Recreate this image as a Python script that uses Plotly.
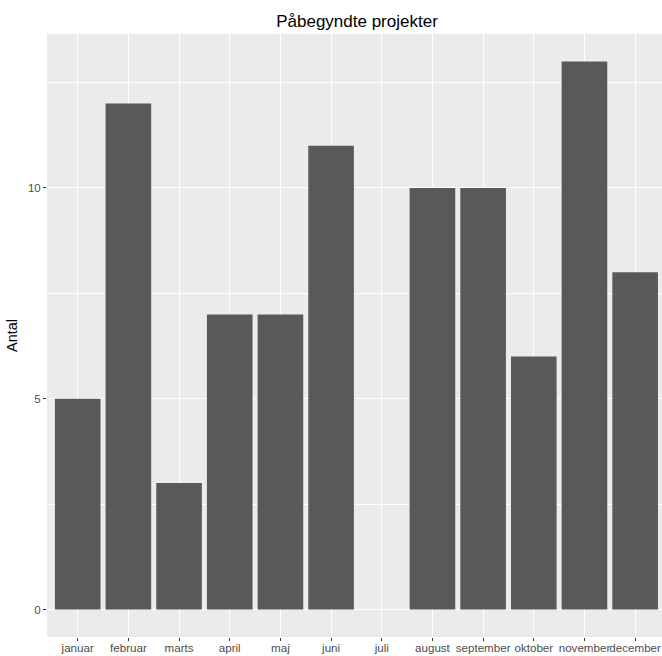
import plotly.graph_objects as go

months = ["januar", "februar", "marts", "april", "maj", "juni", "juli",
          "august", "september", "oktober", "november", "december"]
counts = [5, 12, 3, 7, 7, 11, 0, 10, 10, 6, 13, 8]
y_ticks = [0, 5, 10]

fig = go.Figure(go.Bar(x=months, y=counts, marker=dict(color="#595959", line=dict(width=0)),
                       width=0.9))

fig.update_layout(
    width=662, height=656,
    margin=dict(l=47, r=0, t=34, b=19, autoexpand=False),
    paper_bgcolor="white", plot_bgcolor="#EBEBEB",
    font=dict(family="Liberation Sans, Arial, sans-serif", color="#000000"),
    title=dict(text="Påbegyndte projekter", x=357 / 662, xanchor="center",
               y=1 - 21 / 656, yanchor="middle", font=dict(size=17, color="#000000")),
    showlegend=False, bargap=0.1,
)
fig.update_xaxes(
    type="category", range=[-0.606, 11.53], showgrid=True, gridcolor="white", gridwidth=1.4,
    ticks="outside", ticklen=3, tickwidth=1, tickcolor="#333333", automargin=False,
    tickangle=0, ticklabelstandoff=-3,
    tickfont=dict(size=11.6, color="#4D4D4D"), zeroline=False, showline=False,
)
fig.update_yaxes(
    range=[-0.65, 13.65], tickvals=y_ticks, showgrid=True, gridcolor="white", gridwidth=1.4,
    minor=dict(tick0=2.5, dtick=5, showgrid=True, gridcolor="white", gridwidth=0.7),
    ticks="outside", ticklen=3, tickwidth=1, tickcolor="#333333", automargin=False,
    tickfont=dict(size=11.5, color="#4D4D4D"), zeroline=False, showline=False,
    title=dict(text="Antal", font=dict(size=14.5, color="#000000"), standoff=6),
)

fig.write_html("out.html", config={"displayModeBar": False},
               post_script="document.body.style.margin='0';document.body.style.overflow='hidden';")
